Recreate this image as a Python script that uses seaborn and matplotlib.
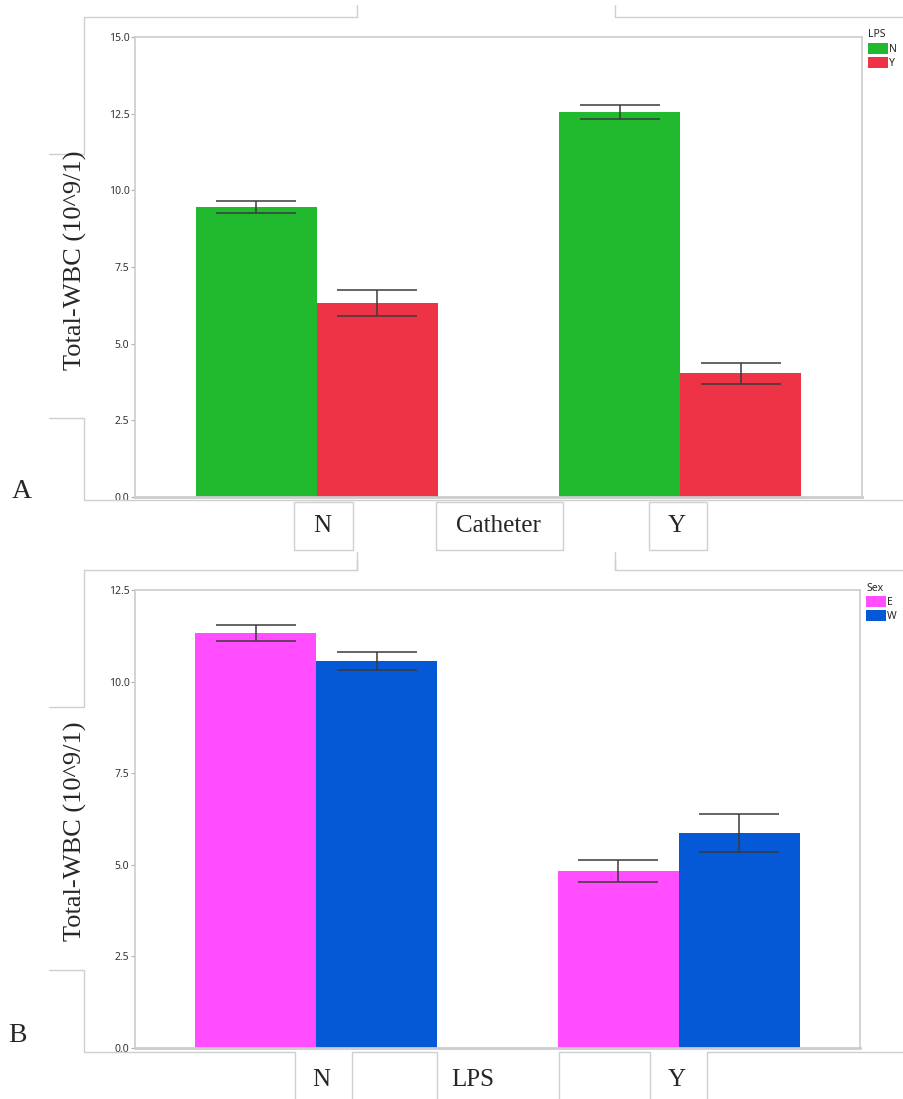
import matplotlib
matplotlib.use("Agg")
import matplotlib.pyplot as plt
from matplotlib.lines import Line2D
from matplotlib.patches import Rectangle
import seaborn as sns
import pandas as pd

# Panel A: Total WBC by catheter status, split by LPS
catheter = ["N", "N", "Y", "Y"]
lps_a = ["N", "Y", "N", "Y"]
wbc_a = [9.45, 6.33, 12.56, 4.03]
sem_a = [0.20, 0.42, 0.22, 0.33]

# Panel B: Total WBC by LPS, split by sex
lps_b = ["N", "N", "Y", "Y"]
sex = ["E", "W", "E", "W"]
wbc_b = [11.33, 10.56, 4.82, 5.88]
sem_b = [0.22, 0.25, 0.30, 0.52]

ylabel = "Total-WBC (10^9/1)"

W, H = 904, 1099
sns.set_theme(style="white")
plt.rcParams["font.family"] = ["Noto Sans", "DejaVu Sans"]
SERIF = ["Liberation Serif", "DejaVu Serif"]

fig = plt.figure(figsize=(W / 100, H / 100), dpi=100)


def rect(l, t, r, b):
    return [l / W, 1 - b / H, (r - l) / W, (b - t) / H]


def fx(x):
    return x / W


def fy(y):
    return 1 - y / H


def line(xs, ys, color="#cfcfcf", lw=1.0):
    fig.add_artist(Line2D([fx(x) for x in xs], [fy(y) for y in ys],
                          transform=fig.transFigure, color=color, lw=lw))


def box(l, t, r, b):
    fig.add_artist(Rectangle((fx(l), fy(b)), (r - l) / W, (b - t) / H,
                             transform=fig.transFigure, fill=False,
                             edgecolor="#cfcfcf", lw=1.0))


def panel(axrect, df, xcol, hcol, order, hue_order, colors, ymax, title):
    ax = fig.add_axes(axrect)
    sns.barplot(data=df, x=xcol, y="wbc", hue=hcol, order=order,
                hue_order=hue_order, palette=colors, width=0.667,
                errorbar=None, linewidth=0, saturation=1, ax=ax)
    # error bars (mean +/- SEM) at the centre of each bar
    for level, cont in zip(hue_order, ax.containers):
        for cat, bar in zip(order, cont):
            row = df[(df[xcol] == cat) & (df[hcol] == level)].iloc[0]
            cx = bar.get_x() + bar.get_width() / 2
            ax.errorbar(cx, row["wbc"], yerr=row["sem"], color="#3a3a3a",
                        lw=1.1, capsize=29, capthick=1.1, zorder=5)
    ax.set_xlim(-0.5, 1.5)
    ax.set_ylim(0, ymax)
    ax.set_yticks([v * 2.5 for v in range(int(ymax / 2.5) + 1)])
    ax.set_yticklabels([f"{v * 2.5:.1f}" for v in range(int(ymax / 2.5) + 1)])
    ax.set_xticks([])
    ax.set_xlabel("")
    ax.set_ylabel("")
    ax.tick_params(axis="y", labelsize=7.5, length=3, width=0.8,
                   color="#b0b0b0", labelcolor="#333333", pad=1, left=True)
    for s in ax.spines.values():
        s.set_color("#cccccc")
        s.set_linewidth(1.2)
    ax.spines["bottom"].set_linewidth(2)
    handles, labels = ax.get_legend_handles_labels()
    ax.legend(handles, labels, title=title, loc="upper left",
              bbox_to_anchor=(1.0, 1.03), frameon=False, fontsize=7.5,
              title_fontsize=7.5, handlelength=1.9, handleheight=1.3,
              handletextpad=0.1, labelspacing=0.2, borderaxespad=0.2,
              alignment="left")
    return ax


df_a = pd.DataFrame({"Catheter": catheter, "LPS": lps_a, "wbc": wbc_a, "sem": sem_a})
df_b = pd.DataFrame({"LPS": lps_b, "Sex": sex, "wbc": wbc_b, "sem": sem_b})

panel(rect(135, 37, 862, 497), df_a, "Catheter", "LPS", ["N", "Y"], ["N", "Y"],
      ["#21ba2e", "#ee3346"], 15.0, "LPS")
panel(rect(135, 590, 860, 1048), df_b, "LPS", "Sex", ["N", "Y"], ["E", "W"],
      ["#ff4dff", "#0558d6"], 12.5, "Sex")

# surrounding frame pieces, panel A
line([357, 357, 84, 84, 49], [5, 17, 17, 154, 154])
line([615, 615, 904], [5, 17, 17])
line([49, 84, 84, 904], [418, 418, 500, 500])
box(294, 502, 353, 550)
box(436, 502, 563, 550)
box(649, 502, 707, 550)
line([357, 357], [552, 570])
line([615, 615], [552, 570])

# surrounding frame pieces, panel B
line([357, 357, 84, 84, 49], [560, 570, 570, 707, 707])
line([615, 615, 904], [560, 570, 570])
line([49, 84, 84, 295, 295], [970, 970, 1052, 1052, 1099])
line([352, 352, 437, 437], [1099, 1052, 1052, 1099])
line([559, 559, 650, 650], [1099, 1052, 1052, 1099])
line([707, 707, 904], [1099, 1052, 1052])

# axis titles and category labels
fig.text(fx(75), fy(260), ylabel, rotation=90, ha="center", va="center",
         fontsize=19, family=SERIF)
fig.text(fx(75), fy(831), ylabel, rotation=90, ha="center", va="center",
         fontsize=19, family=SERIF)
for txt, x in [("N", 322), ("Catheter", 498), ("Y", 677)]:
    fig.text(fx(x), fy(526), txt, ha="center", va="center", fontsize=18, family=SERIF)
for txt, x in [("N", 321), ("LPS", 473), ("Y", 677)]:
    fig.text(fx(x), fy(1080), txt, ha="center", va="center", fontsize=18, family=SERIF)

# panel letters
fig.text(fx(22), fy(492), "A", ha="center", va="center", fontsize=20, family=SERIF)
fig.text(fx(17), fy(1036), "B", ha="center", va="center", fontsize=20, family=SERIF)

fig.savefig("out.png", dpi=100)
